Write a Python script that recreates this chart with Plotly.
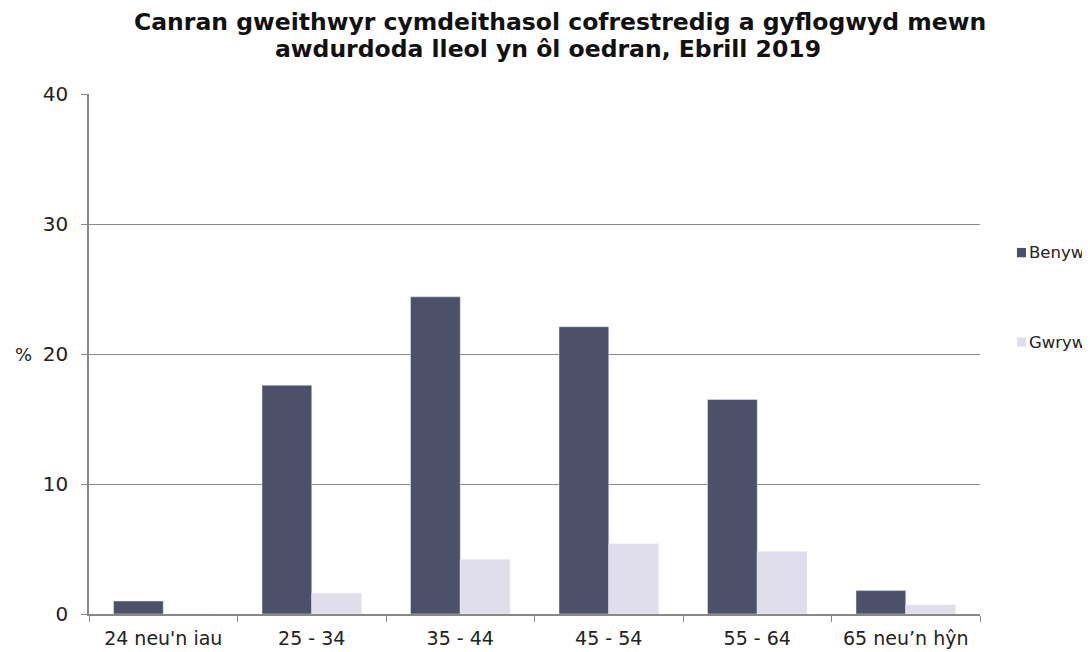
import plotly.graph_objects as go

categories = ["24 neu'n iau", "25 - 34", "35 - 44", "45 - 54", "55 - 64", "65 neu\u2019n hŷn"]
benyw = [1.0, 17.6, 24.4, 22.1, 16.5, 1.8]
gwryw = [0.0, 1.6, 4.2, 5.4, 4.8, 0.7]
y_ticks = [0, 10, 20, 30, 40]
series_names = ["Benyw", "Gwryw"]
series_colors = ["#4D5069", "#E1DEEC"]
title_lines = ["Canran gweithwyr cymdeithasol cofrestredig a gyflogwyd mewn",
               "awdurdoda lleol yn ôl oedran, Ebrill 2019"]

FONT = "DejaVu Sans"
fig = go.Figure()
for name, vals, col in zip(series_names, [benyw, gwryw], series_colors):
    fig.add_trace(go.Bar(x=categories, y=vals, name=name, marker_color=col))

fig.update_layout(
    width=1082, height=644,
    margin=dict(l=81, r=110, t=86, b=38, autoexpand=False),
    paper_bgcolor="white", plot_bgcolor="white",
    barmode="group", bargap=0.33, bargroupgap=0,
    font=dict(family=FONT, size=18, color="#222"),
    showlegend=False,
)
fig.update_xaxes(showline=True, linecolor="#888", linewidth=1.5,
                 ticks="outside", ticklen=6, tickcolor="#888",
                 tickson="boundaries", showgrid=False, ticklabelstandoff=6,
                 tickfont=dict(family=FONT, size=19, color="#222"))
fig.update_yaxes(range=[0, 40], tickvals=y_ticks, showline=True, linecolor="#888",
                 linewidth=1.5, showgrid=True, gridcolor="#888", gridwidth=1.2,
                 ticks="outside", ticklen=6, tickcolor="#888", zeroline=False,
                 ticklabelstandoff=9,
                 tickfont=dict(family=FONT, size=20, color="#222"))

# title (two lines)
for txt, xc, yc in zip(title_lines, [0.5286, 0.5146], [1.139, 1.087]):
    fig.add_annotation(text="<b>" + txt + "</b>", xref="paper", yref="paper",
                       x=xc, y=yc, xanchor="center", yanchor="middle",
                       showarrow=False,
                       font=dict(family=FONT, size=23.5, color="#111"))

fig.add_annotation(text="%", xref="paper", yref="paper", x=-0.062, y=0.5,
                   xanchor="right", yanchor="middle", showarrow=False,
                   font=dict(family=FONT, size=18, color="#222"))

# manual legend
leg_y = [0.695, 0.523]
for name, col, yc in zip(series_names, series_colors, leg_y):
    fig.add_shape(type="rect", xref="paper", yref="paper",
                  x0=1.0415, x1=1.0516, y0=yc - 0.009, y1=yc + 0.009,
                  fillcolor=col, line=dict(width=0))
    fig.add_annotation(text=name, xref="paper", yref="paper", x=1.055, y=yc,
                       xanchor="left", yanchor="middle", showarrow=False,
                       xshift=-2, font=dict(family=FONT, size=16.5, color="#222"))
fig.write_html("out.html")
